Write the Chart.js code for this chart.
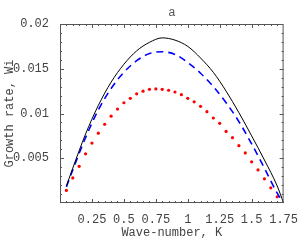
<!DOCTYPE html>
<html>
<head>
<meta charset="utf-8">
<script src="https://cdn.jsdelivr.net/npm/chart.js@4/dist/chart.umd.min.js"></script>
<style>
html,body{margin:0;padding:0;background:#fff;}
canvas{display:block;}
</style>
</head>
<body>
<canvas id="growth" width="300" height="240"></canvas>
<script>
// wave numbers for the solid and dashed curves
const kLine=[0.05,0.1,0.2,0.3,0.4,0.5,0.6,0.7,0.8,0.9,1.0,1.1,1.2,1.3,1.4,1.5,1.6,1.7,1.75];
const wBlack=[0.0019,0.0039,0.0077,0.0109,0.0135,0.0155,0.0170,0.01795,0.01845,0.0182,0.0175,0.0162,0.0146,0.0125,0.0101,0.0075,0.0048,0.0019,0.0];
const wBlue=[0.0018,0.0037,0.0073,0.0104,0.0128,0.0146,0.0159,0.0167,0.0169,0.0166,0.0157,0.0145,0.0130,0.0112,0.0091,0.0066,0.0039,0.0011,0.0];
// dotted (red) curve sample points
const kDots=[0.05,0.1,0.15,0.2,0.25,0.3,0.35,0.4,0.45,0.5,0.55,0.6,0.65,0.7,0.75,0.8,0.85,0.9,0.95,1.0,1.05,1.1,1.15,1.2,1.25,1.3,1.35,1.4,1.45,1.5,1.55,1.6,1.65,1.7];
const wRed=[0.0014,0.0028,0.0041,0.0055,0.0067,0.0078,0.0088,0.0097,0.0105,0.0112,0.0117,0.0122,0.0125,0.0127,0.01275,0.0127,0.0126,0.0124,0.0121,0.0117,0.0113,0.0108,0.0102,0.0095,0.0089,0.0080,0.0073,0.0064,0.0056,0.0046,0.0037,0.0027,0.0017,0.0007];
const xTicks=[0.25,0.5,0.75,1,1.25,1.5,1.75];
const yTicks=[0.005,0.01,0.015,0.02];

const pts=(xs,ys)=>xs.map((x,i)=>({x,y:ys[i]}));
const mono='"Liberation Mono", "DejaVu Sans Mono", monospace';

// frame with inward ticks on all four sides, plus the "a" title
const framePlugin={
  id:'frame',
  afterDraw(chart){
    const {ctx,chartArea:a,scales:{x,y}}=chart;
    ctx.save();
    ctx.strokeStyle='#555';
    ctx.lineWidth=1;
    ctx.strokeRect(a.left+0.5,a.top+0.5,a.right-a.left-1,a.bottom-a.top-1);
    ctx.beginPath();
    for(let i=1;i<35;i++){
      const v=i*0.05, px=Math.round(x.getPixelForValue(v))+0.5;
      const len=(i%5===0)?4:2;
      ctx.moveTo(px,a.bottom);ctx.lineTo(px,a.bottom-len);
      ctx.moveTo(px,a.top);ctx.lineTo(px,a.top+len);
    }
    for(let i=1;i<20;i++){
      const v=i*0.001, py=Math.round(y.getPixelForValue(v))+0.5;
      const len=(i%5===0)?4:2;
      ctx.moveTo(a.left,py);ctx.lineTo(a.left+len,py);
      ctx.moveTo(a.right,py);ctx.lineTo(a.right-len,py);
    }
    ctx.stroke();
    ctx.fillStyle='#555';
    ctx.font='12px "Liberation Sans", Arial, sans-serif';
    ctx.textAlign='center';
    ctx.textBaseline='middle';
    ctx.fillText('a',(a.left+a.right)/2,13);
    ctx.restore();
  }
};

new Chart(document.getElementById('growth'),{
  type:'line',
  data:{datasets:[
    {data:pts(kLine,wBlack),borderColor:'#000',borderWidth:1,pointRadius:0,cubicInterpolationMode:'monotone'},
    {data:pts(kLine,wBlue),borderColor:'#0000ff',borderWidth:1.6,borderDash:[7,5],pointRadius:0,cubicInterpolationMode:'monotone'},
    {data:pts(kDots,wRed),showLine:false,pointRadius:1.6,pointBorderWidth:0,pointBackgroundColor:'#ff0000',borderColor:'#ff0000'}
  ]},
  plugins:[framePlugin],
  options:{
    responsive:false,
    animation:false,
    layout:{padding:{top:24,right:16,left:0,bottom:0}},
    plugins:{legend:{display:false},tooltip:{enabled:false},title:{display:false}},
    scales:{
      x:{
        type:'linear',min:0,max:1.75,
        grid:{display:false},
        border:{display:false},
        afterFit:s=>{s.height=37;},
        afterBuildTicks:s=>{s.ticks=xTicks.map(v=>({value:v}));},
        ticks:{color:'#444',font:{family:mono,size:12},padding:2,maxRotation:0,autoSkip:false,callback:v=>String(v)},
        title:{display:true,text:'Wave-number, K',color:'#444',font:{family:mono,size:12},padding:{top:7,bottom:0}}
      },
      y:{
        min:0,max:0.02,
        grid:{display:false},
        border:{display:false},
        afterFit:s=>{s.width=60;},
        afterBuildTicks:s=>{s.ticks=yTicks.map(v=>({value:v}));},
        ticks:{color:'#444',font:{family:mono,size:12},padding:3,autoSkip:false,callback:v=>String(Number(v.toFixed(3)))},
        title:{display:true,text:'Growth rate, Wi',color:'#444',font:{family:mono,size:12},padding:{top:3,bottom:0}}
      }
    }
  }
});
</script>
</body>
</html>
